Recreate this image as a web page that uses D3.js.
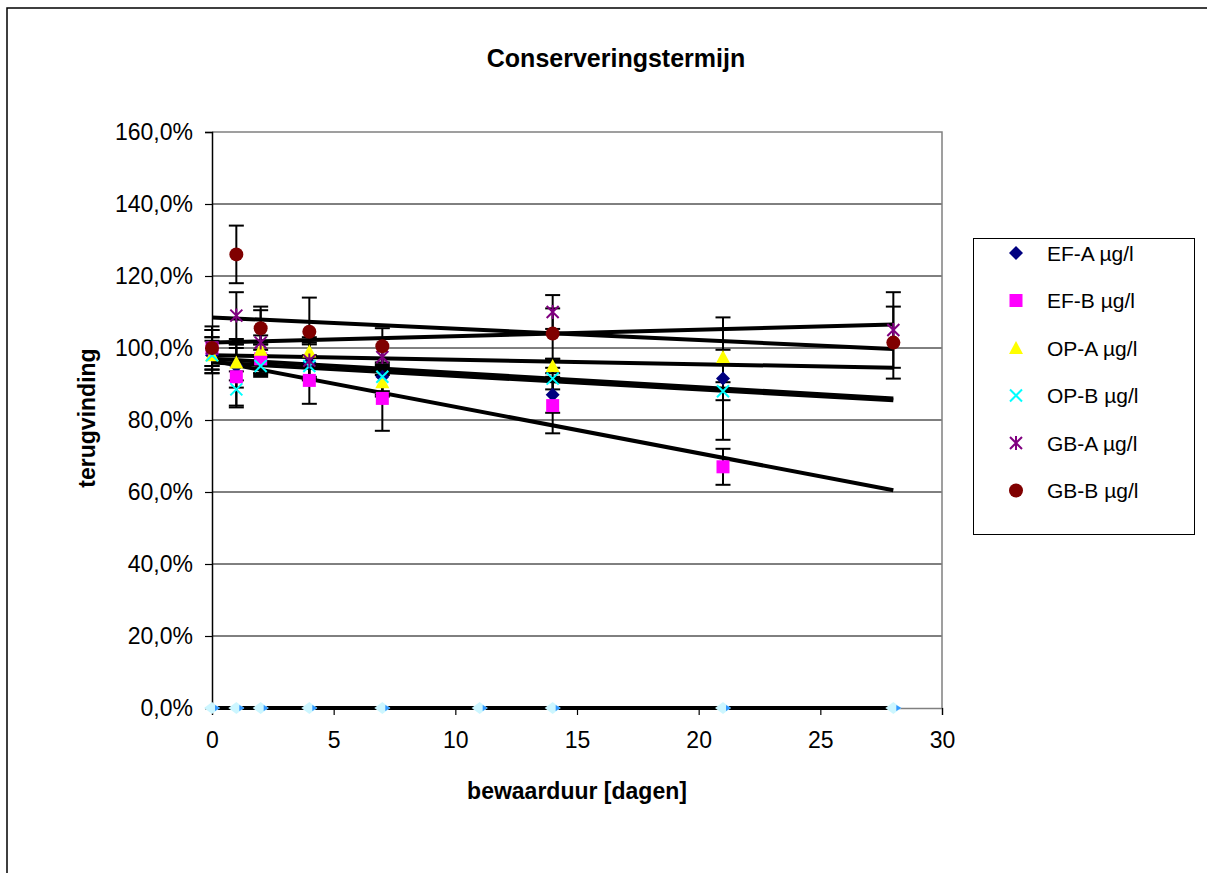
<!DOCTYPE html>
<html>
<head>
<meta charset="utf-8">
<script src="https://cdn.jsdelivr.net/npm/d3@7"></script>
<style>
  body { margin: 0; background: #fff; }
  text { font-family: Arial, "Liberation Sans", sans-serif; fill: #000; }
</style>
</head>
<body>
<svg id="chart" width="1207" height="873"></svg>
<script>

// bewaarduur in dagen
let days = [0, 1, 2, 4, 7, 14, 21, 28];
let zero_days = [0, 1, 2, 4, 7, 11, 14, 21, 28];

let series_names = ["EF-A µg/l", "EF-B µg/l", "OP-A µg/l", "OP-B µg/l", "GB-A µg/l", "GB-B µg/l"];
let series_colors = ["#000080", "#ff00ff", "#ffff00", "#00ffff", "#800080", "#800000"];
let series_shapes = ["diamond", "square", "triangle", "cross", "star", "circle"];

// terugvinding in %, null = geen meting
let ef_a = [98, 95, 97, 96, 92, 87, 91.5, null];
let ef_b = [100, 92, 97, 91, 86, 84, 67, null];
let op_a = [98, 96, 99.5, 99, 90.5, 95, 97.5, null];
let op_b = [98, 88.5, 95, 95, 92, 91.5, 88, null];
let gb_a = [100, 109, 101.5, 96.5, 97.5, 110, null, 105];
let gb_b = [100, 126, 105.5, 104.5, 100.5, 104, null, 101.5];

// foutmarges (+/- %)
let ef_a_err = [5, 6, 4, 5, 5, 5, 17, null];
let ef_b_err = [5, 8, 4, 6.5, 9, 7.7, 5, null];
let op_a_err = [4, 5, 4, 4, 4, 2, 2, null];
let op_b_err = [5, 5, 3, 3, 4, 3, 2.5, null];
let gb_a_err = [6, 6.5, 9, 5, 5, 4.7, null, 10.5];
let gb_b_err = [5, 8, 6, 9.5, 5, 7, null, 10];

// trendlijnen: waarde op dag 0 en dag 28
let trend_start = [97, 96.5, 98, 96, 101.5, 108.5];
let trend_end = [86, 60.5, 94.5, 85.5, 106.5, 99.7];

let y_ticks = [0, 20, 40, 60, 80, 100, 120, 140, 160];
let x_ticks = [0, 5, 10, 15, 20, 25, 30];

let values = [ef_a, ef_b, op_a, op_b, gb_a, gb_b];
let errors = [ef_a_err, ef_b_err, op_a_err, op_b_err, gb_a_err, gb_b_err];

let width = 1207,
  height = 873,
  plot = {left: 212, right: 942, top: 132, bottom: 708};

let nl = d3.formatLocale({decimal: ",", thousands: ".", grouping: [3], currency: ["€", ""]});
let pct = nl.format(".1%");

let x = d3.scaleLinear().domain([0, 30]).range([plot.left, plot.right]);
let y = d3.scaleLinear().domain([0, 160]).range([plot.bottom, plot.top]);

let svg = d3.select("#chart");

// buitenkader
svg.append("rect")
  .attr("x", 7).attr("y", 8)
  .attr("width", 1230).attr("height", 900)
  .attr("fill", "none").attr("stroke", "#000").attr("stroke-width", 1.5);

svg.append("text")
  .attr("x", 616).attr("y", 67)
  .attr("text-anchor", "middle")
  .attr("font-size", 25).attr("font-weight", "bold")
  .text("Conserveringstermijn");

// gridlijnen
svg.append("g").selectAll("line")
  .data(y_ticks.filter(d => d > 0 && d < 160)).enter()
  .append("line")
  .attr("x1", plot.left).attr("x2", plot.right)
  .attr("y1", d => y(d)).attr("y2", d => y(d))
  .attr("stroke", "#000").attr("stroke-width", 1);

// plotkader
svg.append("path")
  .attr("d", `M${plot.left},${plot.top}H${plot.right}V${plot.bottom}`)
  .attr("fill", "none").attr("stroke", "#808080").attr("stroke-width", 1.5);

let y_axis = svg.append("g")
  .attr("transform", `translate(${plot.left},0)`)
  .call(d3.axisLeft(y).tickValues(y_ticks).tickSize(7).tickPadding(12).tickFormat(d => pct(d / 100)));
let x_axis = svg.append("g")
  .attr("transform", `translate(0,${plot.bottom})`)
  .call(d3.axisBottom(x).tickValues(x_ticks).tickSize(7).tickPadding(17).tickFormat(d => d));

y_axis.select(".domain").attr("stroke", "#000").attr("stroke-width", 1.5);
x_axis.select(".domain").attr("stroke", "#808080").attr("stroke-width", 1.5);
[y_axis, x_axis].forEach(a => {
  a.selectAll(".tick line").attr("stroke", "#000").attr("stroke-width", 1.2);
  a.selectAll("text").attr("font-size", 23).attr("font-family", "Arial, 'Liberation Sans', sans-serif");
});

svg.append("text")
  .attr("x", 577).attr("y", 799)
  .attr("text-anchor", "middle")
  .attr("font-size", 23).attr("font-weight", "bold")
  .text("bewaarduur [dagen]");

svg.append("text")
  .attr("transform", `translate(95, 418) rotate(-90)`)
  .attr("text-anchor", "middle")
  .attr("font-size", 23).attr("font-weight", "bold")
  .text("terugvinding");

// nul-reeks
let zero_g = svg.append("g");
zero_g.append("line")
  .attr("x1", x(0)).attr("x2", x(28))
  .attr("y1", y(0)).attr("y2", y(0))
  .attr("stroke", "#000").attr("stroke-width", 4);
zero_g.selectAll("g")
  .data(zero_days).enter()
  .append("g")
  .attr("transform", d => `translate(${x(d)},${y(0)})`)
  .each(function () {
    let g = d3.select(this);
    g.append("path").attr("d", "M-8,0L0,-6L8,0L0,6Z").attr("fill", "#ccf6ff");
    g.append("path").attr("d", "M3,-3L8,0L3,3Z").attr("fill", "#3399ff");
  });

let points = [];
values.forEach((vals, i) => {
  vals.forEach((v, j) => {
    if (v != null) points.push({s: i, day: days[j], v: v, e: errors[i][j]});
  });
});

// foutbalken
let err_g = svg.append("g");
points.forEach(p => {
  let cx = x(p.day), y1 = y(p.v + p.e), y2 = y(p.v - p.e);
  err_g.append("line")
    .attr("x1", cx).attr("x2", cx).attr("y1", y1).attr("y2", y2)
    .attr("stroke", "#000").attr("stroke-width", 2);
  [y1, y2].forEach(yy => err_g.append("line")
    .attr("x1", cx - 7.5).attr("x2", cx + 7.5).attr("y1", yy).attr("y2", yy)
    .attr("stroke", "#000").attr("stroke-width", 2));
});

// trendlijnen
svg.append("g").selectAll("line")
  .data(d3.range(series_names.length)).enter()
  .append("line")
  .attr("x1", x(0)).attr("x2", x(28))
  .attr("y1", i => y(trend_start[i])).attr("y2", i => y(trend_end[i]))
  .attr("stroke", "#000").attr("stroke-width", 4);

function marker(g, shape, color) {
  if (shape == "diamond") {
    g.append("path").attr("d", "M-7,0L0,-7L7,0L0,7Z").attr("fill", color);
  } else if (shape == "square") {
    g.append("rect").attr("x", -6.5).attr("y", -6.5).attr("width", 13).attr("height", 13).attr("fill", color);
  } else if (shape == "triangle") {
    g.append("path").attr("d", "M0,-7L7,6L-7,6Z").attr("fill", color);
  } else if (shape == "cross") {
    g.append("path").attr("d", "M-6,-6L6,6M6,-6L-6,6").attr("stroke", color).attr("stroke-width", 2);
  } else if (shape == "star") {
    g.append("path").attr("d", "M-6,-6L6,6M6,-6L-6,6M0,-7L0,7").attr("stroke", color).attr("stroke-width", 2);
  } else {
    g.append("circle").attr("r", 7).attr("fill", color);
  }
}

svg.append("g").selectAll("g")
  .data(points).enter()
  .append("g")
  .attr("transform", d => `translate(${x(d.day)},${y(d.v)})`)
  .each(function (d) { marker(d3.select(this), series_shapes[d.s], series_colors[d.s]); });

// legenda
let legend = svg.append("g");
legend.append("rect")
  .attr("x", 973.5).attr("y", 238.5).attr("width", 221).attr("height", 296)
  .attr("fill", "#fff").attr("stroke", "#000").attr("stroke-width", 1);
series_names.forEach((name, i) => {
  let cy = 253 + i * 47.5;
  marker(legend.append("g").attr("transform", `translate(1016,${cy})`), series_shapes[i], series_colors[i]);
  legend.append("text")
    .attr("x", 1047).attr("y", cy + 7.5)
    .attr("font-size", 21)
    .text(name);
});
</script>
</body>
</html>
